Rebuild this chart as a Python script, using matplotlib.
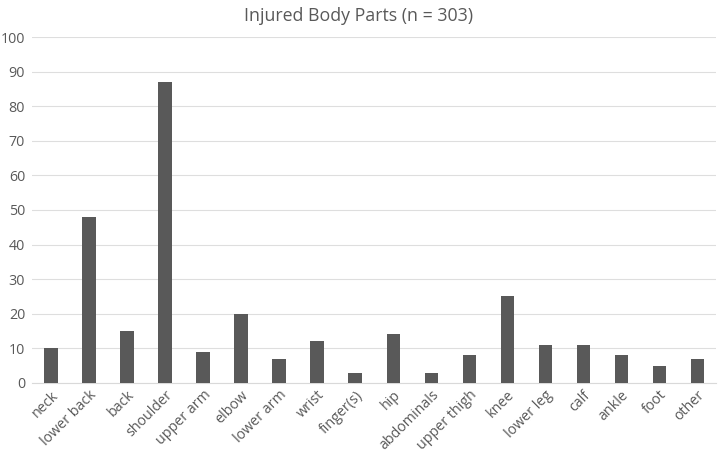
import matplotlib.pyplot as plt

parts = ['neck', 'lower back', 'back', 'shoulder', 'upper arm', 'elbow', 'lower arm',
         'wrist', 'finger(s)', 'hip', 'abdominals', 'upper thigh', 'knee', 'lower leg',
         'calf', 'ankle', 'foot', 'other']
counts = [10, 48, 15, 87, 9, 20, 7, 12, 3, 14, 3, 8, 25, 11, 11, 8, 5, 7]

plt.rcParams['font.family'] = ['Open Sans', 'DejaVu Sans']

fig = plt.figure(figsize=(7.18, 4.58), dpi=100)
ax = fig.add_axes([0.0446, 0.164, 0.953, 0.755])

x = range(len(parts))
ax.bar(x, counts, width=0.35, color='#595959', zorder=3)

ax.set_xlim(-0.5, len(parts) - 0.5)
ax.set_ylim(0, 100)
ax.set_yticks(range(0, 101, 10))
ax.grid(axis='y', color='#dedede', linewidth=0.8, zorder=0)
for s in ['top', 'right', 'left']:
    ax.spines[s].set_visible(False)
ax.spines['bottom'].set_color('#d9d9d9')
ax.tick_params(axis='both', length=0, colors='#595959', labelsize=10.3)
ax.tick_params(axis='y', pad=5)
ax.set_xticks(list(x))
ax.set_xticklabels(parts, rotation=45, ha='right', rotation_mode='anchor')

fig.suptitle('Injured Body Parts (n = 303)', y=0.985, fontsize=12.8, color='#595959')

fig.savefig('out.png', dpi=100)
